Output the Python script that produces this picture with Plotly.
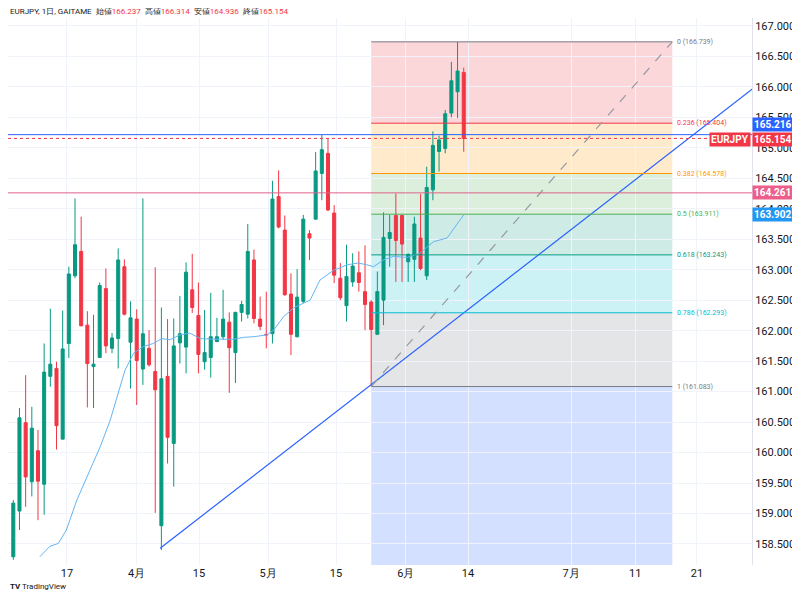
import math
import plotly.graph_objects as go

# ---- data (EURJPY daily) ----
opens = [158.29,159.04,160.49,159.52,160.03,159.48,161.25,161.38,160.22,161.79,162.90,163.30,162.09,161.41,161.56,162.69,161.71,161.87,163.05,161.81,
         162.19,161.37,161.71,161.33,158.80,161.25,160.15,161.80,161.73,162.67,162.25,161.49,161.56,161.82,161.90,162.14,161.64,162.30,162.27,163.16,
         162.19,161.94,161.95,164.20,163.65,162.60,161.90,162.48,163.59,163.83,164.58,164.91,163.93,162.86,162.41,162.80,162.95,162.64,162.47,161.94,
         162.50,163.51,163.89,163.89,163.13,163.17,163.52,162.90,164.31,164.94,164.99,165.57,165.92,166.237]
highs = [159.22,160.73,161.27,160.75,160.37,161.79,162.36,161.49,162.33,163.05,164.17,163.87,162.32,162.26,162.79,163.02,161.96,163.35,163.17,162.48,
         162.35,164.17,162.01,163.04,162.38,162.19,162.20,162.57,163.12,163.26,162.79,162.34,162.62,162.21,162.67,162.30,162.31,162.49,163.75,163.33,
         162.56,162.64,164.46,164.63,163.89,162.94,163.01,163.90,163.65,164.93,165.21,165.16,164.06,163.11,163.41,163.27,163.30,163.40,162.50,162.97,
         163.94,163.90,164.25,163.90,163.27,163.87,164.24,164.69,165.27,165.20,165.62,166.41,166.739,166.314]
lows = [158.24,158.73,159.11,159.28,158.89,158.98,161.08,160.05,160.22,161.55,162.86,162.07,160.74,160.73,161.56,161.63,161.63,161.38,162.25,161.05,
        160.78,161.11,161.41,159.01,158.40,159.82,159.44,161.46,161.30,162.29,161.30,161.36,161.23,161.82,161.85,160.98,161.14,162.15,162.20,162.12,
        162.01,161.71,161.79,163.68,162.57,161.60,161.89,162.45,163.16,163.82,164.14,163.96,162.78,162.50,162.15,162.72,162.64,162.01,161.083,161.93,
        162.09,163.05,162.80,162.80,162.80,162.80,162.99,162.83,164.14,164.61,164.91,165.50,165.49,164.936]
closes = [159.17,160.57,159.60,160.40,159.53,161.32,161.45,160.44,161.70,162.93,163.41,162.08,161.46,161.45,162.74,161.75,161.88,163.16,162.27,162.21,
          161.51,161.95,161.44,161.03,161.21,160.25,161.75,161.95,162.96,162.38,161.61,161.64,161.90,161.90,162.19,161.72,162.30,162.43,163.30,162.20,
          162.07,161.93,164.16,163.70,162.59,161.94,162.55,163.83,163.52,164.62,164.97,163.98,162.91,162.54,162.89,163.06,162.79,162.43,162.02,162.64,
          163.53,163.61,163.48,163.42,163.25,163.75,163.02,164.35,165.04,165.13,165.56,166.10,166.26,165.154]

ma_x = [4.3,5.9,7.3,8.6,10.3,11.9,14.1,15.7,16.8,18.1,19.5,21.1,22.7,24.1,25.4,27.0,28.6,30.3,32.4,35.7,37.3,38.9,41.1,42.2,43.8,45.4,47.0,48.1,
        49.7,51.9,54.1,55.9,57.3,58.4,60.0,61.6,63.8,65.9,68.1,70.3,73.0]
ma_y = [158.29,158.46,158.51,158.73,159.22,159.60,160.10,160.53,160.92,161.35,161.63,161.74,161.79,161.87,161.85,161.93,161.96,161.87,161.86,
        161.86,161.89,161.90,161.93,162.01,162.23,162.37,162.45,162.50,162.83,162.99,163.08,163.11,163.08,163.05,163.16,163.22,163.20,163.27,
        163.46,163.52,163.90]

tick_pos = [-0.8,8.7,20.0,30.1,41.3,52.3,63.6,73.7,90.4,100.8,110.8]
tick_text = ["月","17","4月","15","5月","15","6月","14","7月","11","21"]

fib_ratios = [0,0.236,0.382,0.5,0.618,0.786,1,1.618]
fib_colors = ["#787B86","#F23645","#FF9800","#4CAF50","#089981","#00BCD4","#787B86","#2962FF"]
fib_high, fib_low = 166.739, 161.083
fib_x0, fib_x1 = 58, 106.8
trend_x = [23.8, 121]
trend_y = [158.43, 166.06]

x = list(range(len(opens)))
XR = [-0.86, 119.72]
YR = [158.155, 167.13]

fig = go.Figure()
shapes = []
annots = []
levels = [fib_high - r*(fib_high-fib_low) for r in fib_ratios]
for i in range(1, len(levels)):
    shapes.append(dict(type="rect", x0=fib_x0, x1=fib_x1, y0=levels[i-1], y1=max(levels[i], YR[0]),
                       fillcolor=fib_colors[i], opacity=0.2, line_width=0, layer="below"))
for i in range(len(levels)-1):
    shapes.append(dict(type="line", x0=fib_x0, x1=fib_x1, y0=levels[i], y1=levels[i],
                       line=dict(color=fib_colors[i], width=1)))
    lab = ("%g" % fib_ratios[i]) + " (%.3f)" % (math.floor(levels[i]*1000 + 1e-6)/1000)
    annots.append(dict(x=fib_x1, y=levels[i], text=lab, xanchor="left", xshift=3, showarrow=False,
                       font=dict(size=7, color=fib_colors[i])))
shapes.append(dict(type="line", x0=fib_x0, x1=fib_x1, y0=fib_low, y1=fib_high,
                   line=dict(color="#9598A1", width=1.2, dash="dash")))
shapes.append(dict(type="line", xref="paper", x0=0, x1=1, y0=165.216, y1=165.216, line=dict(color="#2962FF", width=1)))
shapes.append(dict(type="line", xref="paper", x0=0, x1=1, y0=164.261, y1=164.261, line=dict(color="#E0628A", width=1)))
shapes.append(dict(type="line", xref="paper", x0=0, x1=1, y0=165.154, y1=165.154, line=dict(color="#F23645", width=1, dash="dot")))

fig.add_trace(go.Scatter(x=trend_x, y=trend_y, mode="lines", line=dict(color="#2962FF", width=1.2), hoverinfo="skip"))
fig.add_trace(go.Scatter(x=ma_x, y=ma_y, mode="lines", line=dict(color="#64B5F6", width=1), hoverinfo="skip"))
fig.add_trace(go.Candlestick(x=x, open=opens, high=highs, low=lows, close=closes, whiskerwidth=0,
                             increasing=dict(line=dict(color="#089981", width=1), fillcolor="#089981"),
                             decreasing=dict(line=dict(color="#F23645", width=1), fillcolor="#F23645")))

def box(y, text, bg, xs=0, anchor="left", yanchor="middle", ys=0):
    annots.append(dict(xref="paper", x=1, y=y, text="<b>"+text+"</b>", xanchor=anchor, xshift=xs, showarrow=False,
                       yanchor=yanchor, yshift=ys,
                       bgcolor=bg, font=dict(size=10, color="white", family="Roboto"), borderpad=1))
box(165.216, "165.216", "#2962FF", 0, yanchor="bottom", ys=3)
box(165.154, "165.154", "#F23645", 0, ys=-1)
box(165.154, "EURJPY", "#F23645", -1, "right", ys=-1)
box(164.261, "164.261", "#EC5F8A", 0)
box(163.902, "163.902", "#2196F3", 0)

annots.append(dict(xref="paper", yref="paper", x=0, y=1, xanchor="left", yanchor="bottom", yshift=0, xshift=0, showarrow=False,
                   text="EURJPY, 1日, GAITAME  始値<span style='color:#F23645'>166.237</span>  高値<span style='color:#F23645'>166.314</span>  安値<span style='color:#F23645'>164.936</span>  終値<span style='color:#F23645'>165.154</span>",
                   font=dict(size=8, color="#131722")))
annots.append(dict(xref="paper", yref="paper", x=0, y=0, xanchor="left", yanchor="top", yshift=-15, xshift=0, showarrow=False,
                   text="<b>TV</b> TradingView", font=dict(size=8, color="#131722")))

fig.update_layout(width=792, height=588, margin=dict(l=0, r=48, t=10, b=31), paper_bgcolor="white", plot_bgcolor="white",
                  showlegend=False, shapes=shapes, annotations=annots, font=dict(family="Roboto", color="#131722"))
fig.update_xaxes(range=XR, tickvals=tick_pos, ticktext=tick_text, rangeslider_visible=False, showgrid=True,
                 gridcolor="#F0F3FA", zeroline=False, tickfont=dict(size=11), ticks="")
fig.update_yaxes(range=YR, side="right", dtick=0.5, tick0=158.5, tickformat=".3f", showgrid=True, gridcolor="#F0F3FA",
                 zeroline=False, tickfont=dict(size=11), showline=True, linecolor="#E0E3EB", ticks="")
fig.write_html("out.html")
